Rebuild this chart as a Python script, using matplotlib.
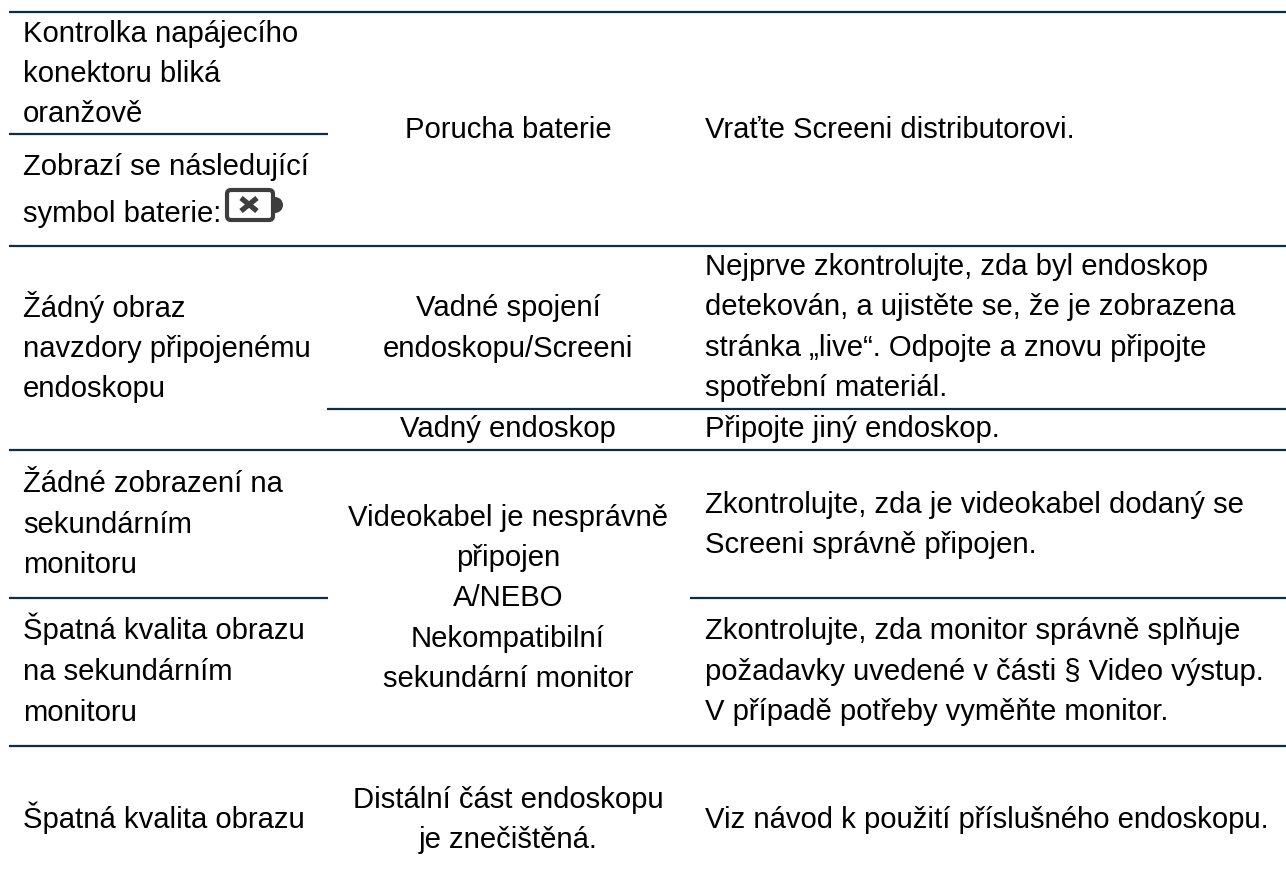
import matplotlib.pyplot as plt
from matplotlib.patches import FancyBboxPatch, Wedge

plt.rcParams['font.family'] = ['Liberation Sans', 'DejaVu Sans']

# table text, one list per column
problem_lines = ["Kontrolka napájecího", "konektoru bliká", "oranžově",
                 "Zobrazí se následující", "symbol baterie:",
                 "Žádný obraz", "navzdory připojenému", "endoskopu",
                 "Žádné zobrazení na", "sekundárním", "monitoru",
                 "Špatná kvalita obrazu", "na sekundárním", "monitoru",
                 "Špatná kvalita obrazu"]
cause_lines = ["Porucha baterie",
               "Vadné spojení", "endoskopu/Screeni",
               "Vadný endoskop",
               "Videokabel je nesprávně", "připojen", "A/NEBO", "Nekompatibilní", "sekundární monitor",
               "Distální část endoskopu", "je znečištěná."]
action_lines = ["Vraťte Screeni distributorovi.",
                "Nejprve zkontrolujte, zda byl endoskop", "detekován, a ujistěte se, že je zobrazena",
                "stránka „live“. Odpojte a znovu připojte", "spotřební materiál.",
                "Připojte jiný endoskop.",
                "Zkontrolujte, zda je videokabel dodaný se", "Screeni správně připojen.",
                "Zkontrolujte, zda monitor správně splňuje", "požadavky uvedené v části § Video výstup.",
                "V případě potřeby vyměňte monitor.",
                "Viz návod k použití příslušného endoskopu."]

# baselines in pixels from the top
problem_y = [42, 82, 122, 175, 222, 317, 357, 397, 492, 533, 573, 639, 680, 721, 828]
cause_y = [138, 316, 357, 437, 526, 566, 606, 647, 687, 808, 848]
action_y = [138, 275, 315, 356, 396, 437, 513, 553, 639, 680, 720, 828]

# horizontal rules: y, x start, x end
rule_y = [13, 135, 247, 410, 451, 599, 599, 747]
rule_x0 = [9, 9, 9, 327, 9, 9, 690, 9]
rule_x1 = [1286, 328, 1286, 1286, 1286, 328, 1286, 1286]

rule_color = '#0b2f47'
icon_color = '#3d3d3d'
font_size = 21.05

fig = plt.figure(figsize=(12.86, 8.87), dpi=100)
ax = fig.add_axes([0, 0, 1, 1])
ax.set_xlim(0, 1286)
ax.set_ylim(887, 0)
ax.axis('off')

for y, x0, x1 in zip(rule_y, rule_x0, rule_x1):
    ax.plot([x0, x1], [y, y], color=rule_color, lw=1.6, solid_capstyle='butt')

for s, y in zip(problem_lines, problem_y):
    ax.text(23, y, s, ha='left', va='baseline', fontsize=font_size, color='black')
for s, y in zip(cause_lines, cause_y):
    ax.text(508, y, s, ha='center', va='baseline', fontsize=font_size, color='black')
for s, y in zip(action_lines, action_y):
    ax.text(705, y, s, ha='left', va='baseline', fontsize=font_size, color='black')

# battery fault symbol
ax.add_patch(FancyBboxPatch((227, 191), 46, 30, boxstyle='round,pad=0,rounding_size=4',
                            fc='white', ec=icon_color, lw=3))
ax.add_patch(Wedge((275, 206), 8, -90, 90, fc=icon_color, ec='none'))
ax.plot([241, 257], [199, 212], color=icon_color, lw=3.8, solid_capstyle='butt')
ax.plot([241, 257], [212, 199], color=icon_color, lw=3.8, solid_capstyle='butt')

fig.savefig('out.png', dpi=100)
